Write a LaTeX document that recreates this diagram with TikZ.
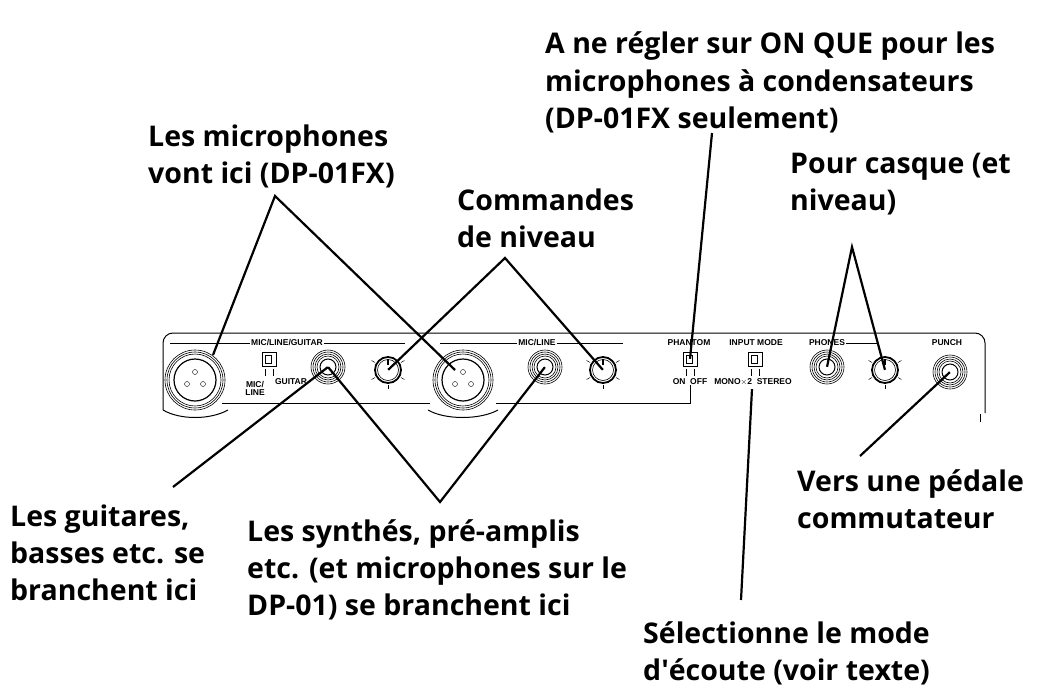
\documentclass[tikz,border=0pt]{standalone}
\usepackage{fontspec}
\setmainfont{Open Sans}
\newfontfamily\panelfont{Liberation Sans}
\begin{document}
\begin{tikzpicture}[x=1pt,y=-1pt,
  big/.style={font=\fontsize{28.5}{37}\selectfont\bfseries,align=left,anchor=base west,inner sep=0pt},
  small/.style={font=\panelfont\fontsize{8.5}{9}\selectfont\bfseries,inner sep=1pt},
  panel/.style={line width=1pt},
  lead/.style={line width=2.2pt},
  pt/.style={circle,inner sep=0pt,minimum size=0pt}]
\useasboundingbox (0,0) rectangle (1051,693);
% panel outline
\draw[panel,rounded corners=10pt] (163,410) -- (163,333) -- (985,333) -- (985,413);
\draw[panel] (980,414) -- (980,422);
\draw[panel] (222,403) -- (430,403);
\draw[panel] (496,403) -- (690,403) -- (690,385);
\draw[panel] (163,410) .. controls (180,420) and (210,420) .. (228,410);
\draw[panel] (428,410) .. controls (445,420) and (480,420) .. (498,410);
% headers
\node[small] (hmlg) at (287,343) {MIC/LINE/GUITAR};
\draw[panel] (170,343) -- (hmlg.west) (hmlg.east) -- (405,343);
\node[small] (hml) at (537,343) {MIC/LINE};
\draw[panel] (440,343) -- (hml.west) (hml.east) -- (623,343);
\node[small] (hph) at (689,343) {PHANTOM};
\node[small] (him) at (756,343) {INPUT MODE};
\node[small] (hpo) at (827,343) {PHONES};
\draw[panel] (hpo.east) -- (877,343);
\node[small] (hpu) at (947,343) {PUNCH};
% XLR
\foreach \n/\x in {xa/195,xb/463}{
  \node[pt] (\n) at (\x,380) {};
  \foreach \r in {30,28,26}{\draw[line width=0.6pt] (\x,380) circle[radius=\r];}
  \draw[line width=1.2pt] (\x,380) circle[radius=21];
  \draw (\x-8,384) circle[radius=2.5] (\x+8,384) circle[radius=2.5] (\x,372) circle[radius=2.5];
}
% jacks
\foreach \n/\x/\y in {ja/328/367,jb/545/367,jp/827/367,jq/950/372}{
  \node[pt] (\n) at (\x,\y) {};
  \foreach \r in {17,15,13,11}{\draw[line width=0.6pt] (\x,\y) circle[radius=\r];}
  \draw[line width=1pt] (\x,\y) circle[radius=8];
}
% knobs
\foreach \n/\x in {ka/388,kb/603,kc/885}{
  \node[pt] (\n) at (\x,370) {};
  \draw[line width=1.8pt] (\x,370) circle[radius=13];
  \draw[line width=0.6pt] (\x,370) circle[radius=10.5];
  \foreach \a in {-30,30,90,150,210}{\draw[line width=0.5pt] (\x,370) ++(\a:15) -- ++(\a:4);}
  \draw[line width=1.2pt] (\x,359) -- (\x,365);
}
% switches
\foreach \n/\x in {sa/269,sb/690,sc/755}{
  \node[pt] (\n) at (\x,359) {};
  \draw[line width=0.8pt] (\x-7,352) rectangle (\x+7,366);
  \draw[line width=0.6pt] (\x-4,355) rectangle (\x+2,363);
  \draw[line width=0.6pt] (\x-4,369) -- (\x-4,376) (\x+4,369) -- (\x+4,376);
}
\node[small,align=center,font=\panelfont\fontsize{8.5}{8}\selectfont\bfseries] at (255,388) {MIC/\\LINE};
\node[small] at (291,382) {GUITAR};
\node[small] at (690,382) {ON\ \ OFF};
\node[small] (mono) at (753,382) {MONO$\times$2\ \ STEREO};
\node[pt] (monop) at (752,389) {};
% big labels
\node[big] (t1) at (545,128) {A ne régler sur ON QUE pour les\\microphones à condensateurs\\(DP-01FX seulement)};
\node[big] (t2) at (148,183) {Les microphones\\vont ici (DP-01FX)};
\node[big] (t3) at (457,247) {Commandes\\de niveau};
\node[big] (t4) at (790,210) {Pour casque (et\\niveau)};
\node[big] (t5) at (10,600) {Les guitares,\\basses etc. se\\branchent ici};
\node[big] (t6) at (247,615) {Les synthés, pré-amplis\\etc. (et microphones sur le\\DP-01) se branchent ici};
\node[big] (t7) at (797,528) {Vers une pédale\\commutateur};
\node[big] (t8) at (643,680) {Sélectionne le mode\\d\textquotesingle écoute (voir texte)};
% leader lines
\coordinate (a2) at (275,196);
\draw[lead] (213,355) -- (a2) -- (455,370);
\coordinate (a3) at (505,258);
\draw[lead] (ka) -- (a3) -- (kb);
\coordinate (a1) at (712,133);
\draw[lead] (a1) -- (sb);
\coordinate (a4) at (852,247);
\draw[lead] (jp) -- (a4) -- (kc);
\coordinate (a5) at (173,487);
\draw[lead] (a5) -- (ja);
\coordinate (a6) at (440,502);
\draw[lead] (ja) -- (a6) -- (jb);
\coordinate (a7) at (860,456);
\draw[lead] (a7) -- (jq);
\coordinate (a8) at (741,600);
\draw[lead] (a8) -- (monop);
\end{tikzpicture}
\end{document}
